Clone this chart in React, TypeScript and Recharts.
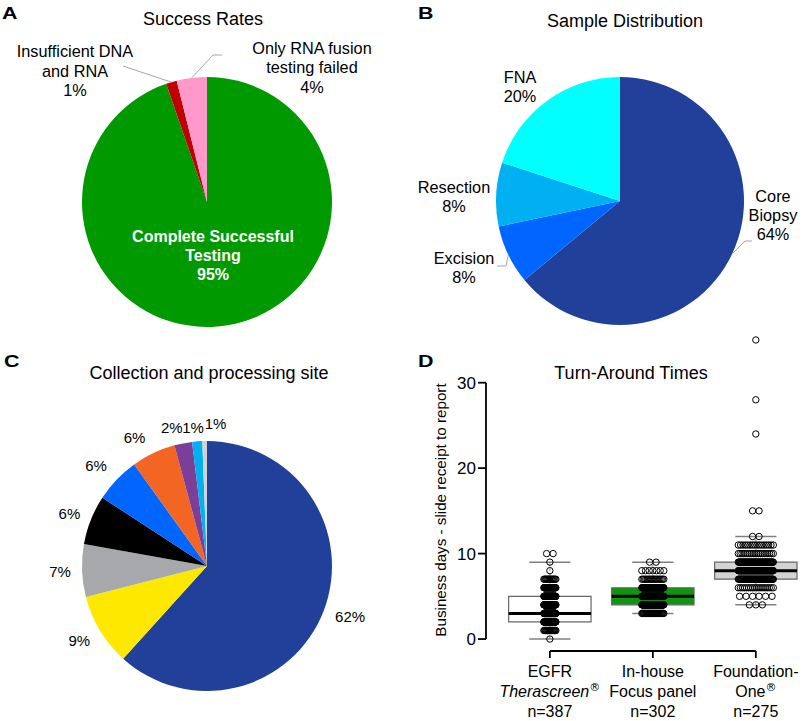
import React from 'react';
import {
  PieChart,
  Pie,
  Cell,
  ScatterChart,
  Scatter,
  XAxis,
  YAxis,
  ReferenceArea,
  ReferenceLine,
} from 'recharts';

const FONT = '"Liberation Sans", Arial, Helvetica, sans-serif';
const RAD = Math.PI / 180;

// ---- A: success rates
const successNames = ['Complete Successful Testing', 'Insufficient DNA and RNA', 'Only RNA fusion testing failed'];
const successValues = [94.7, 1.4, 3.9];
const successLines = [['Complete Successful', 'Testing'], ['Insufficient DNA', 'and RNA'], ['Only RNA fusion', 'testing failed']];
const successColors = ['#009A00', '#C00000', '#FF99CC'];

// ---- B: sample distribution
const sampleNames = ['Core Biopsy', 'Excision', 'Resection', 'FNA'];
const sampleValues = [64, 7.7, 8.3, 20];
const sampleLines = [['Core', 'Biopsy'], ['Excision'], ['Resection'], ['FNA']];
const sampleColors = ['#21409A', '#0066FF', '#00B0F0', '#00FFFF'];

// ---- C: collection and processing site
const siteValues = [61.7, 9.3, 6.8, 6.4, 5.9, 5.7, 2.3, 1.3, 0.6];
const siteColors = ['#21409A', '#FFE800', '#A7A8AB', '#000000', '#0066FF', '#F26522', '#7B3F98', '#00B0F0', '#D0D2D6'];

// ---- D: turn-around times (number of cases per business day)
const tatDays = [0, 1, 2, 3, 4, 5, 6, 7, 8, 9, 10, 11, 12, 15, 24, 28, 35];
const egfrCounts = [1, 20, 80, 97, 70, 60, 40, 15, 1, 1, 2, 0, 0, 0, 0, 0, 0];
const inhouseCounts = [0, 0, 0, 30, 80, 90, 75, 18, 7, 2, 0, 0, 0, 0, 0, 0, 0];
const foundationCounts = [0, 0, 0, 0, 3, 6, 18, 55, 90, 60, 20, 16, 2, 2, 1, 1, 1];
const boxLow = [0, 3, 4];
const boxQ1 = [2, 4, 7];
const boxMedian = [3, 5, 8];
const boxQ3 = [5, 6, 9];
const boxHigh = [9, 9, 12];
const tatLine1 = ['EGFR', 'In-house', 'Foundation-'];
const tatLine2 = ['Therascreen', 'Focus panel', 'One'];
const tatItalic = [true, false, false];
const tatReg = [true, false, true];
const tatN = [387, 302, 275];

// layout bits
const boxFills = ['#FFFFFF', '#0E960E', '#D3D3D3'];
const bandPx = [12, 22, 35];
const STEP_PX = 6.5;
const X_MIN = 0.38;
const X_MAX = 3.458;
const Y_MIN = -1.4;
const Y_MAX = 36.4;
const PLOT_W = 317;
const PX = (X_MAX - X_MIN) / PLOT_W;

const groupCounts = [egfrCounts, inhouseCounts, foundationCounts];
const tatPoints = groupCounts.flatMap((counts, g) =>
  counts.flatMap((n, k) => {
    if (!n) return [];
    const step = n > 1 ? Math.min(STEP_PX, bandPx[g] / (n - 1)) : 0;
    const span = step * (n - 1);
    return Array.from({ length: n }, (_, i) => ({ x: g + 1 + (-span / 2 + i * step) * PX, y: tatDays[k] }));
  })
);

type Spec = { dx: number; dy: number; lh: number; size: number; bold?: boolean; color?: string; leader?: number[][] };

const successSpecs: Spec[] = [
  { dx: 6, dy: 40, lh: 19, size: 16, bold: true, color: '#fff' },
  { dx: -132, dy: -145, lh: 19.5, size: 16.3, leader: [[-84, -136]] },
  { dx: 105, dy: -148, lh: 19.3, size: 16.3, leader: [[15, -147], [6, -147]] },
];
const sampleSpecs: Spec[] = [
  { dx: 153, dy: 1, lh: 19, size: 16.3, leader: [[132, 40], [125, 40]] },
  { dx: -156, dy: 63, lh: 19, size: 16.3, leader: [[-123, 65], [-114, 65]] },
  { dx: -166, dy: -8, lh: 19, size: 16.3 },
  { dx: -100, dy: -118, lh: 19, size: 16.3 },
];
const siteNudge = [[5, -2.6], [-1, -2], [1, 0], [0, 2.5], [-4, 2], [-9, 5.4], [-7, 7], [-2.4, 9.5], [11.3, 6]];

const blockLabel = (lines: string[][], specs: Spec[]) => (props: any) => {
  const { cx, cy, midAngle, outerRadius, index, percent } = props;
  const s = specs[index];
  const text = [...lines[index], `${Math.round(percent * 100)}%`];
  const ex = cx + outerRadius * Math.cos(-midAngle * RAD);
  const ey = cy + outerRadius * Math.sin(-midAngle * RAD);
  return (
    <g key={`lbl-${index}`}>
      {s.leader && (
        <polyline
          points={[...s.leader.map(([x, y]) => `${cx + x},${cy + y}`), `${ex},${ey}`].join(' ')}
          fill="none"
          stroke="#A6A6A6"
          strokeWidth={1}
        />
      )}
      {text.map((t, k) => (
        <text
          key={k}
          x={cx + s.dx}
          y={cy + s.dy + k * s.lh}
          textAnchor="middle"
          fontFamily={FONT}
          fontSize={s.size}
          fontWeight={s.bold ? 'bold' : 'normal'}
          fill={s.color ?? '#000'}
        >
          {t}
        </text>
      ))}
    </g>
  );
};

const siteLabel = (props: any) => {
  const { cx, cy, midAngle, outerRadius, index, percent } = props;
  const R = outerRadius + 23;
  const x = cx + R * Math.cos(-midAngle * RAD) + siteNudge[index][0];
  const y = cy + R * Math.sin(-midAngle * RAD) + siteNudge[index][1];
  return (
    <text key={`s-${index}`} x={x} y={y} dy="0.35em" textAnchor="middle" fontFamily={FONT} fontSize={15} fill="#000">
      {`${Math.round(percent * 100)}%`}
    </text>
  );
};

const TatTick = (props: any) => {
  const { x, y, payload } = props;
  const i = Math.round(payload.value) - 1;
  if (i < 0 || i > 2) return null;
  return (
    <g>
      <text x={x} y={y + 17} textAnchor="middle" fontFamily={FONT} fontSize={16} fill="#000">{tatLine1[i]}</text>
      <text x={x} y={y + 37} textAnchor="middle" fontFamily={FONT} fontSize={16} fill="#000">
        <tspan fontStyle={tatItalic[i] ? 'italic' : 'normal'}>{tatLine2[i]}</tspan>
        {tatReg[i] && (
          <tspan fontSize={11} dy={-6} fill="#000" fontFamily='"DejaVu Sans", sans-serif'>®</tspan>
        )}
      </text>
      <text x={x} y={y + 57} textAnchor="middle" fontFamily={FONT} fontSize={16} fill="#000">{`n=${tatN[i]}`}</text>
    </g>
  );
};

const dot = (p: any) => <circle cx={p.cx} cy={p.cy} r={3.2} fill="none" stroke="#000" strokeWidth={1} />;

const abs = (left: number, top: number): React.CSSProperties => ({ position: 'absolute', left, top });

export default function App() {
  const successData = successNames.map((name, i) => ({ name, value: successValues[i] }));
  const sampleData = sampleNames.map((name, i) => ({ name, value: sampleValues[i] }));
  const siteData = siteValues.map((value, i) => ({ name: `site${i + 1}`, value }));
  const zero = { top: 0, right: 0, bottom: 0, left: 0 };

  return (
    <div style={{ position: 'absolute', left: 0, top: 0, width: 803, height: 721, background: '#fff', overflow: 'hidden' }}>
      <div style={abs(0, 0)}>
        <PieChart width={400} height={340} margin={zero}>
          <Pie
            data={successData}
            dataKey="value"
            cx={207}
            cy={202}
            outerRadius={125}
            startAngle={90}
            endAngle={-270}
            stroke="none"
            labelLine={false}
            label={blockLabel(successLines, successSpecs)}
            isAnimationActive={false}
          >
            {successData.map((d, i) => <Cell key={d.name} fill={successColors[i]} />)}
          </Pie>
        </PieChart>
      </div>

      <div style={abs(400, 0)}>
        <PieChart width={403} height={340} margin={zero}>
          <Pie
            data={sampleData}
            dataKey="value"
            cx={220}
            cy={201}
            outerRadius={124}
            startAngle={90}
            endAngle={-270}
            stroke="none"
            labelLine={false}
            label={blockLabel(sampleLines, sampleSpecs)}
            isAnimationActive={false}
          >
            {sampleData.map((d, i) => <Cell key={d.name} fill={sampleColors[i]} />)}
          </Pie>
        </PieChart>
      </div>

      <div style={abs(0, 340)}>
        <PieChart width={400} height={381} margin={zero}>
          <Pie
            data={siteData}
            dataKey="value"
            cx={207}
            cy={226}
            outerRadius={125}
            startAngle={90}
            endAngle={-270}
            stroke="none"
            labelLine={false}
            label={siteLabel}
            isAnimationActive={false}
          >
            {siteData.map((d, i) => <Cell key={d.name} fill={siteColors[i]} />)}
          </Pie>
        </PieChart>
      </div>

      <div style={abs(400, 320)}>
        <ScatterChart width={403} height={401} margin={{ top: 8, right: 0, bottom: 0, left: 0 }}>
          <XAxis
            type="number"
            dataKey="x"
            domain={[X_MIN, X_MAX]}
            allowDataOverflow
            ticks={[1, 2, 3]}
            interval={0}
            axisLine={false}
            tickLine={{ stroke: '#000', strokeWidth: 1.8 }}
            tickSize={7}
            height={70}
            tick={(p: any) => <TatTick {...p} />}
          />
          <YAxis
            type="number"
            dataKey="y"
            domain={[Y_MIN, Y_MAX]}
            allowDataOverflow
            ticks={[0, 10, 20, 30]}
            interval={0}
            axisLine={false}
            tickLine={{ stroke: '#000', strokeWidth: 1.8 }}
            tickSize={8}
            width={86}
            tick={{ fill: '#000', fontSize: 17, fontFamily: FONT }}
          />
          {boxQ1.map((q1, g) => (
            <ReferenceArea
              key={`box${g}`}
              x1={g + 1 - 0.4}
              x2={g + 1 + 0.4}
              y1={q1}
              y2={boxQ3[g]}
              fill={boxFills[g]}
              fillOpacity={1}
              stroke="#666"
              strokeWidth={1.2}
              ifOverflow="visible"
            />
          ))}
          {boxQ1.map((q1, g) => (
            <ReferenceLine key={`sl${g}`} segment={[{ x: g + 1, y: boxLow[g] }, { x: g + 1, y: q1 }]} stroke="#888" strokeDasharray="3 2" ifOverflow="visible" />
          ))}
          {boxQ3.map((q3, g) => (
            <ReferenceLine key={`sh${g}`} segment={[{ x: g + 1, y: q3 }, { x: g + 1, y: boxHigh[g] }]} stroke="#888" strokeDasharray="3 2" ifOverflow="visible" />
          ))}
          {boxLow.map((v, g) => (
            <ReferenceLine key={`cl${g}`} segment={[{ x: g + 0.8, y: v }, { x: g + 1.2, y: v }]} stroke="#808080" strokeWidth={1.5} ifOverflow="visible" />
          ))}
          {boxHigh.map((v, g) => (
            <ReferenceLine key={`ch${g}`} segment={[{ x: g + 0.8, y: v }, { x: g + 1.2, y: v }]} stroke="#808080" strokeWidth={1.5} ifOverflow="visible" />
          ))}
          {boxMedian.map((v, g) => (
            <ReferenceLine key={`md${g}`} segment={[{ x: g + 0.6, y: v }, { x: g + 1.4, y: v }]} stroke="#000" strokeWidth={3} ifOverflow="visible" />
          ))}
          <ReferenceLine segment={[{ x: X_MIN, y: 0 }, { x: X_MIN, y: 30 }]} stroke="#000" strokeWidth={1.8} ifOverflow="visible" />
          <ReferenceLine segment={[{ x: 1, y: Y_MIN }, { x: 3, y: Y_MIN }]} stroke="#000" strokeWidth={1.8} ifOverflow="visible" />
          <Scatter data={tatPoints} shape={dot} isAnimationActive={false} />
        </ScatterChart>
      </div>

      <svg width={803} height={721} style={{ position: 'absolute', left: 0, top: 0, pointerEvents: 'none' }} fontFamily={FONT} fill="#000">
        <g fontWeight={900} fontSize={16.5}>
          <text transform="translate(2,18.5) scale(1.3,1)">A</text>
          <text transform="translate(418,18.5) scale(1.3,1)">B</text>
          <text transform="translate(4,367) scale(1.3,1)">C</text>
          <text transform="translate(418,367) scale(1.3,1)">D</text>
        </g>
        <g fontSize={18} textAnchor="middle">
          <text x={203} y={24.5}>Success Rates</text>
          <text x={625} y={26.5}>Sample Distribution</text>
          <text x={209} y={379}>Collection and processing site</text>
          <text x={631} y={379}>Turn-Around Times</text>
        </g>
        <text transform="translate(446,510) rotate(-90)" textAnchor="middle" fontSize={15.2}>
          Business days - slide receipt to report
        </text>
      </svg>
    </div>
  );
}
